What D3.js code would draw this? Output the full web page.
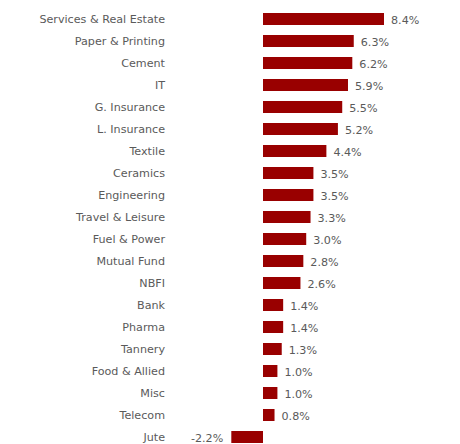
<!DOCTYPE html>
<html>
<head>
<meta charset="utf-8">
<script src="https://cdn.jsdelivr.net/npm/d3@7/dist/d3.min.js"></script>
<style>
html,body{margin:0;padding:0;background:#fff;}
svg text{font-family:"DejaVu Sans",Verdana,sans-serif;font-size:11.15px;fill:#5a5a5a;}
</style>
</head>
<body>
<svg id="chart" width="460" height="444"></svg>
<script>
const categories = ["Services & Real Estate","Paper & Printing","Cement","IT","G. Insurance","L. Insurance","Textile","Ceramics","Engineering","Travel & Leisure","Fuel & Power","Mutual Fund","NBFI","Bank","Pharma","Tannery","Food & Allied","Misc","Telecom","Jute"];
const values = [8.4,6.3,6.2,5.9,5.5,5.2,4.4,3.5,3.5,3.3,3.0,2.8,2.6,1.4,1.4,1.3,1.0,1.0,0.8,-2.2];
const labels = values.map(v => v.toFixed(1) + "%");

const svg = d3.select("#chart");
const x = d3.scaleLinear().domain([0, 8.4]).range([263, 384]);
const y = d3.scaleBand().domain(categories).range([8, 448]).paddingInner(0.4545).paddingOuter(0.2273);

svg.selectAll("rect.bar").data(categories).join("rect")
  .attr("class","bar")
  .attr("x", (d,i) => Math.min(x(0), x(values[i])))
  .attr("width", (d,i) => Math.abs(x(values[i]) - x(0)))
  .attr("y", d => y(d))
  .attr("height", y.bandwidth())
  .attr("fill", "#990000");

svg.selectAll("text.cat").data(categories).join("text")
  .attr("class","cat")
  .attr("x", 165)
  .attr("y", d => y(d) + y.bandwidth()/2)
  .attr("dy", "0.35em")
  .attr("text-anchor","end")
  .text(d => d);

svg.selectAll("text.val").data(categories).join("text")
  .attr("class","val")
  .attr("x", (d,i) => values[i] >= 0 ? x(values[i]) + 7 : x(values[i]) - 8)
  .attr("y", d => y(d) + y.bandwidth()/2 + 1)
  .attr("dy", "0.35em")
  .attr("text-anchor", (d,i) => values[i] >= 0 ? "start" : "end")
  .text((d,i) => labels[i]);
</script>
</body>
</html>
